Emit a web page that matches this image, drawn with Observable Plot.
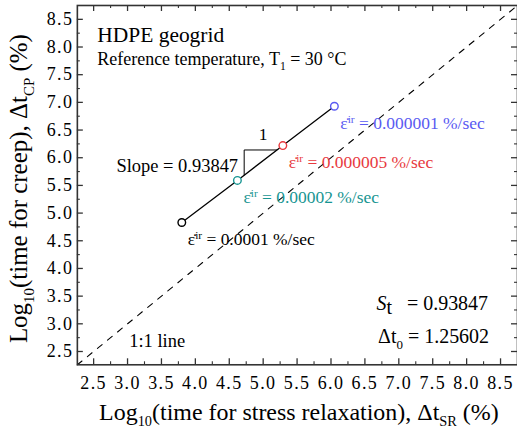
<!DOCTYPE html>
<html><head><meta charset="utf-8">
<script src="https://cdn.jsdelivr.net/npm/d3@7"></script>
<script src="https://cdn.jsdelivr.net/npm/@observablehq/plot@0.6"></script>
<style>
html,body{margin:0;padding:0;background:#fff;overflow:hidden;}
#chart svg, #chart svg text, #chart svg tspan { font-family: "Liberation Serif", "Times New Roman", Times, serif !important; }
</style>
</head><body><div id="chart"></div>
<script>
// ---- data ----
const rateLabels = ["0.0001", "0.00002", "0.000005", "0.000001"];
const logTimeSR = [3.80, 4.62, 5.29, 6.05];
const logTimeCP = [4.83, 5.59, 6.22, 6.93];
const seriesColors = ["#000000", "#179592", "#e8393e", "#5a5af2"];
const majorTicks = [2.5, 3.0, 3.5, 4.0, 4.5, 5.0, 5.5, 6.0, 6.5, 7.0, 7.5, 8.0, 8.5];
const minorTicks = [2.75, 3.25, 3.75, 4.25, 4.75, 5.25, 5.75, 6.25, 6.75, 7.25, 7.75, 8.25];
const unityLine = [2.26, 8.75];
const slopeTriangleX = [4.72, 4.72, 5.20];
const slopeTriangleY = [5.69, 6.14, 6.14];
const slopeValue = "0.93847";
const interceptValue = "1.25602";
const materialTitle = "HDPE geogrid";
const refTempLabel = "Reference temperature, T_{1} = 30 °C";
const xTitle = "Log_{10}(time for stress relaxation), Δt_{SR} (%)";
const yTitle = "Log_{10}(time for creep), Δt_{CP} (%)";

const points = rateLabels.map((r, i) => ({rate: r, x: logTimeSR[i], y: logTimeCP[i], color: seriesColors[i]}));
const triangle = slopeTriangleX.map((x, i) => ({x, y: slopeTriangleY[i]}));

// ---- layout ----
const W = 518, H = 430, mL = 77, mR = 0, mT = 5, mB = 65;
const pw = W - mL - mR, ph = H - mT - mB;
const FONT = "Liberation Serif, Times New Roman, serif";
const AX = "#333";

const chart = Plot.plot({
  width: W, height: H,
  marginLeft: mL, marginRight: mR, marginTop: mT, marginBottom: mB,
  style: "font-family: 'Liberation Serif', serif; background: #fff; overflow: visible; color: #000;",
  x: {domain: [2.26, 8.75], label: null},
  y: {domain: [2.26, 8.75], label: null},
  color: {type: "identity"},
  marks: [
    // 1:1 reference line
    Plot.line(unityLine, {x: d => d, y: d => d, stroke: "#000", strokeWidth: 1.1, strokeDasharray: "6,7"}),
    // slope triangle
    Plot.line(triangle, {x: "x", y: "y", stroke: "#000", strokeWidth: 1}),
    Plot.text(["1"], {x: 5.0, y: 6.42, text: d => d, fontSize: 17.5, textAnchor: "middle", fontFamily: FONT}),
    Plot.text([`Slope = ${slopeValue}`], {x: 4.63, y: 5.85, text: d => d, fontSize: 18.5, textAnchor: "end", fontFamily: FONT}),
    // fitted line + points
    Plot.line(points, {x: "x", y: "y", stroke: "#000", strokeWidth: 1.3}),
    Plot.dot(points, {x: "x", y: "y", r: 3.8, stroke: "color", fill: "white", strokeWidth: 1.4}),
    Plot.text(points, {x: "x", y: "y", text: d => `\u03B5\u0307^{ir} = ${d.rate} %/sec`, fill: "color",
      textAnchor: "start", dx: 6, dy: 17, fontSize: 17.5, fontFamily: FONT}),
    // annotations
    Plot.text([materialTitle], {frameAnchor: "top-left", text: d => d, textAnchor: "start", lineAnchor: "middle", dx: 20, dy: 30, fontSize: 21.5, fontFamily: FONT}),
    Plot.text([refTempLabel], {frameAnchor: "top-left", text: d => d, textAnchor: "start", lineAnchor: "middle", dx: 20, dy: 54, fontSize: 18, fontFamily: FONT}),
    Plot.text(["1:1 line"], {frameAnchor: "bottom-left", text: d => d, textAnchor: "start", lineAnchor: "middle", dx: 52, dy: -23.5, fontSize: 18.5, fontFamily: FONT}),
    Plot.text([`~{S}!{t}\u00A0\u00A0\u00A0= ${slopeValue}`], {frameAnchor: "bottom-right", text: d => d, textAnchor: "end", lineAnchor: "middle", dx: -29.5, dy: -61.4, fontSize: 20, fontFamily: FONT}),
    Plot.text([`Δt_{0} = ${interceptValue}`], {frameAnchor: "bottom-right", text: d => d, textAnchor: "end", lineAnchor: "middle", dx: -28.5, dy: -28.1, fontSize: 20, fontFamily: FONT}),
    // inward ticks on all four sides
    Plot.ruleX(majorTicks, {x: d => d, stroke: AX, strokeWidth: 1.3, insetTop: ph - 6}),
    Plot.ruleX(majorTicks, {x: d => d, stroke: AX, strokeWidth: 1.3, insetBottom: ph - 6}),
    Plot.ruleX(minorTicks, {x: d => d, stroke: AX, strokeWidth: 1.1, insetTop: ph - 3}),
    Plot.ruleX(minorTicks, {x: d => d, stroke: AX, strokeWidth: 1.1, insetBottom: ph - 3}),
    Plot.ruleY(majorTicks, {y: d => d, stroke: AX, strokeWidth: 1.3, insetRight: pw - 6}),
    Plot.ruleY(majorTicks, {y: d => d, stroke: AX, strokeWidth: 1.3, insetLeft: pw - 6}),
    Plot.ruleY(minorTicks, {y: d => d, stroke: AX, strokeWidth: 1.1, insetRight: pw - 3}),
    Plot.ruleY(minorTicks, {y: d => d, stroke: AX, strokeWidth: 1.1, insetLeft: pw - 3}),
    Plot.frame({stroke: AX, strokeWidth: 1.6}),
    // tick labels
    Plot.axisX({ticks: majorTicks, anchor: "bottom", tickSize: 0, tickPadding: 11, tickFormat: d3.format(".1f"), fontSize: 18, label: null}),
    Plot.axisY({ticks: majorTicks, anchor: "left", tickSize: 0, tickPadding: 4, tickFormat: d3.format(".1f"), fontSize: 18, label: null}),
    // axis titles
    Plot.text([xTitle], {frameAnchor: "bottom", text: d => d, textAnchor: "middle", lineAnchor: "middle", dx: 1.5, dy: 47.3, fontSize: 24, fontFamily: FONT}),
    Plot.text([yTitle], {frameAnchor: "left", text: d => d, textAnchor: "middle", lineAnchor: "middle", rotate: -90, dx: -58.3, dy: 3.5, fontSize: 25, fontFamily: FONT})
  ]
});

document.getElementById("chart").appendChild(chart);

// letter spacing for the (wide) tick labels
chart.querySelectorAll('g[aria-label="x-axis tick label"] text, g[aria-label="y-axis tick label"] text').forEach(t => {
  t.style.letterSpacing = "1.4px";
});

// rich text: _{sub}  ^{sup}  ~{italic}  !{large sub}
const NS = "http://www.w3.org/2000/svg";
function richify(root) {
  root.querySelectorAll("text").forEach(el => {
    const s = el.textContent;
    if (!/[_^~!]\{/.test(s)) return;
    const fs = parseFloat(getComputedStyle(el).fontSize);
    const subScale = fs >= 23 ? 0.6 : 0.65;
    while (el.firstChild) el.removeChild(el.firstChild);
    const re = /([_^~!])\{([^}]*)\}/g;
    let last = 0, m, shift = 0;
    const add = (txt, kind) => {
      const ts = document.createElementNS(NS, "tspan");
      ts.textContent = txt;
      let target = 0;
      if (kind === "_") { ts.setAttribute("font-size", (fs * subScale).toFixed(2)); target = fs * 0.27; }
      else if (kind === "!") { ts.setAttribute("font-size", (fs * 1.0).toFixed(2)); target = fs * 0.22; }
      else if (kind === "^") { ts.setAttribute("font-size", (fs * 0.65).toFixed(2)); target = -fs * 0.36; }
      else if (kind === "~") { ts.setAttribute("font-style", "italic"); }
      const d = target - shift;
      if (Math.abs(d) > 1e-6) ts.setAttribute("dy", d.toFixed(2));
      shift = target;
      el.appendChild(ts);
    };
    while ((m = re.exec(s))) {
      if (m.index > last) add(s.slice(last, m.index), "");
      add(m[2], m[1]);
      last = re.lastIndex;
    }
    if (last < s.length) add(s.slice(last), "");
  });
}
richify(chart);
</script>
</body></html>
